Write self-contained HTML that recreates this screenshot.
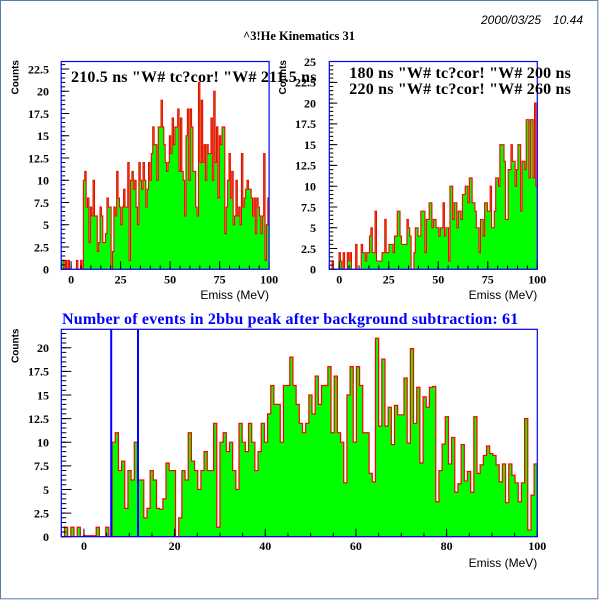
<!DOCTYPE html>
<html><head><meta charset="utf-8"><style>
html,body{margin:0;padding:0;background:#fff;}
svg{display:block;}
.tk{font-family:"Liberation Serif",serif;font-weight:bold;font-size:12px;fill:#000;}
.ax{font-family:"Liberation Sans",sans-serif;font-size:12px;fill:#000;}
.ct{font-family:"Liberation Sans",sans-serif;font-weight:bold;font-size:10px;fill:#000;}
.lb{font-family:"Liberation Serif",serif;font-weight:bold;font-size:16px;letter-spacing:0.2px;fill:#000;}
</style></head><body>
<svg width="600" height="600" viewBox="0 0 600 600" xmlns="http://www.w3.org/2000/svg">
<rect x="0" y="0" width="600" height="600" fill="#fff"/>
<rect x="0.5" y="0.5" width="597.3" height="598.3" fill="none" stroke="#5b7bab" stroke-width="1"/>

<text x="481" y="24" font-family="Liberation Sans, sans-serif" font-style="italic" font-size="12">2000/03/25</text>
<text x="553" y="24" font-family="Liberation Sans, sans-serif" font-style="italic" font-size="12">10.44</text>
<text x="299" y="40" text-anchor="middle" font-family="Liberation Serif, serif" font-weight="bold" font-size="12.5">^3!He Kinematics 31</text>

<defs>
<clipPath id="c1"><rect x="61.2" y="61.5" width="207.9" height="207.8"/></clipPath>
<clipPath id="c2"><rect x="329.3" y="61.5" width="208" height="207.8"/></clipPath>
<clipPath id="c3"><rect x="61.3" y="329.3" width="476" height="207.4"/></clipPath>
</defs>
<g clip-path="url(#c1)">
<g transform="translate(61.2,269.3) scale(1.3867,-8.9)">
<path fill="#00ff00" stroke="#ff0000" stroke-width="1.1" vector-effect="non-scaling-stroke" d="M0 0V1H1V1H2V0H3V1H4V0H5V1H6V0H11V1H12V0H14V1H15V0H16V10H17V11H18V7H19V8H20V3H21V7H22V6H23V10H24V6H26V2H27V3H28V7H29V6H30V3H32V4H33V8H34V7H36V0H37V2H38V7H39V6H40V11H41V8H42V7H43V5H44V7H45V9H46V7H48V12H49V1H50V10H51V11H52V9H53V10H54V7H55V5H56V12H57V10H58V9H59V12H60V10H61V7H62V9H63V12H64V10H65V13H66V16H67V14H69V10H70V16H72V19H73V16H74V14H75V12H76V11H77V12H78V15H79V13H80V17H81V14H82V16H84V18H85V11H86V17H87V11H88V10H89V6H90V15H91V18H92V10H93V18H94V16H95V11H97V7H98V6H99V21H100V12H101V19H102V12H103V14H104V10H105V14H106V13H108V17H109V10H110V20H111V12H112V16H113V8H114V15H115V14H116V16H118V4H119V7H120V10H121V13H122V8H123V11H124V5H125V6H126V10H127V6H128V7H129V5H130V13H131V7H132V8H133V9H134V10H135V9H137V8H138V6H139V8H140V4H141V8H142V7H143V6H144V4H145V6H146V13H147V1H148V5H149V8H150V0Z"/>
</g>
</g>
<g stroke="#000">
<line x1="63.2" y1="269.8" x2="63.2" y2="61.5" stroke-width="4" stroke-dasharray="1 3.45"/>
<line x1="65.2" y1="269.8" x2="65.2" y2="61.5" stroke-width="8" stroke-dasharray="1 21.25"/>
<line x1="60.7" y1="267.3" x2="269.6" y2="267.3" stroke-width="4" stroke-dasharray="1 8.9"/>
<line x1="70.6" y1="265.3" x2="270" y2="265.3" stroke-width="8" stroke-dasharray="1 48.5"/>
</g>
<rect x="61.2" y="61.5" width="207.9" height="207.8" fill="none" stroke="#0000ff" stroke-width="1.2"/>
<g class="tk" text-anchor="end">
<text x="49" y="273.6">0</text>
<text x="49" y="251.35">2.5</text>
<text x="49" y="229.1">5</text>
<text x="49" y="206.85">7.5</text>
<text x="49" y="184.6">10</text>
<text x="49" y="162.35">12.5</text>
<text x="49" y="140.1">15</text>
<text x="49" y="117.85">17.5</text>
<text x="49" y="95.6">20</text>
<text x="49" y="73.35">22.5</text>
</g>
<g class="tk" text-anchor="middle">
<text x="71.1" y="283.5">0</text>
<text x="120.6" y="283.5">25</text>
<text x="170.1" y="283.5">50</text>
<text x="219.6" y="283.5">75</text>
<text x="269.1" y="283.5">100</text>
</g>
<text class="ax" x="269" y="299" text-anchor="end">Emiss (MeV)</text>
<text class="ct" transform="translate(18.5,60) rotate(-90)" text-anchor="end">Counts</text>

<g clip-path="url(#c2)">
<g transform="translate(329.3,269.3) scale(1.3867,-8.31)">
<path fill="#00ff00" stroke="#ff0000" stroke-width="1.1" vector-effect="non-scaling-stroke" d="M0 0V0H2V1H3V0H7V2H8V1H9V0H10V2H11V0H13V2H14V1H15V2H16V0H19V3H20V0H23V3H24V2H26V1H27V2H29V4H30V5H31V2H33V7H34V1H38V2H40V6H41V2H43V3H46V2H47V4H49V7H51V4H52V3H56V6H57V5H58V4H59V0H61V2H62V5H64V4H66V7H69V2H70V6H72V8H74V5H75V6H77V5H79V4H80V5H82V8H83V4H84V5H86V1H87V10H89V6H90V8H92V5H93V7H95V6H96V9H98V10H100V8H101V11H103V8H105V7H106V5H108V2H109V6H111V4H112V8H114V7H116V10H117V5H119V7H120V11H122V10H123V15H126V13H127V6H129V12H131V15H132V13H134V10H135V12H136V15H138V7H139V13H141V12H142V18H144V11H145V18H147V11H148V20H149V10H150V0Z"/>
</g>
</g>
<g stroke="#000">
<line x1="331.3" y1="269.8" x2="331.3" y2="61.5" stroke-width="4" stroke-dasharray="1 3.155"/>
<line x1="333.3" y1="269.8" x2="333.3" y2="61.5" stroke-width="8" stroke-dasharray="1 19.775"/>
<line x1="328.8" y1="267.3" x2="537.8" y2="267.3" stroke-width="4" stroke-dasharray="1 8.905"/>
<line x1="338.7" y1="265.3" x2="538" y2="265.3" stroke-width="8" stroke-dasharray="1 48.525"/>
</g>
<rect x="329.3" y="61.5" width="208" height="207.8" fill="none" stroke="#0000ff" stroke-width="1.2"/>
<g class="tk" text-anchor="end">
<text x="316" y="273.6">0</text>
<text x="316" y="252.8">2.5</text>
<text x="316" y="232.05">5</text>
<text x="316" y="211.3">7.5</text>
<text x="316" y="190.5">10</text>
<text x="316" y="169.7">12.5</text>
<text x="316" y="148.9">15</text>
<text x="316" y="128.2">17.5</text>
<text x="316" y="107.4">20</text>
<text x="316" y="86.6">22.5</text>
<text x="316" y="65.8">25</text>
</g>
<g class="tk" text-anchor="middle">
<text x="339.2" y="283.5">0</text>
<text x="388.7" y="283.5">25</text>
<text x="438.3" y="283.5">50</text>
<text x="487.8" y="283.5">75</text>
<text x="537.3" y="283.5">100</text>
</g>
<text class="ax" x="537.3" y="299" text-anchor="end">Emiss (MeV)</text>
<text class="ct" transform="translate(286,60) rotate(-90)" text-anchor="end">Counts</text>

<text class="lb" x="71" y="82">210.5 ns "W# tc?cor! "W# 211.5 ns</text>
<text class="lb" x="349.3" y="78">180 ns "W# tc?cor! "W# 200 ns</text>
<text class="lb" x="349.3" y="94">220 ns "W# tc?cor! "W# 260 ns</text>

<g clip-path="url(#c3)">
<g transform="translate(61.3,536.7) scale(3.1733,-9.45)">
<path fill="#00ff00" stroke="#ff0000" stroke-width="1.2" vector-effect="non-scaling-stroke" d="M0 0V0H1V1H2V0H3V1H4V0H5V1H6V0H7V0.1H11V1H12V0H14V1H15V0H16V10H17V11H18V7H19V8H20V3H21V7H22V6H23V10H24V6H26V2H27V3H28V7H29V6H30V3H31V2.9H32V4H33V7.8H34V7H36V0H37V2H38V7H39V6H40V11H41V8H42V7H43V5H44V7H45V9H46V7H48V12H49V1H50V10H51V11H52V9H53V10H54V7H55V5H56V12H57V10H58V9H59V12H60V10H61V7H62V9H63V12H64V10H65V13H66V16H67V14H69V10H70V16H72V19H73V16H74V14H75V12H76V11H77V12H78V15H79V13H80V17H81V14H82V16H84V18H85V11H86V17H87V11H88V10H89V5.7H90V15H91V18H92V10H93V18H94V16H95V11H97V6.7H98V5.8H99V21H100V11.7H101V18.8H102V11.7H103V13.7H104V9.75H105V13.9H106V12.9H108V16.8H109V9.9H110V19.9H111V12H112V15.8H113V7.8H114V14.8H115V13.7H116V15.8H117V15.9H118V3.7H119V7H120V9.8H121V12.7H122V7.7H123V10.5H124V4.7H125V5.6H126V9.75H127V5.9H128V6.9H129V4.7H130V12.7H131V6.7H132V7.6H133V8.6H134V9.6H135V8.8H136V8.6H137V7.6H138V5.8H139V7.7H140V3.6H141V7.7H142V6.5H143V5.7H144V3.7H145V5.7H146V12.5H147V0.7H148V4.4H149V7.7H150V0Z"/>
</g>
</g>
<g stroke="#000">
<line x1="63.8" y1="537.2" x2="63.8" y2="329.3" stroke-width="5" stroke-dasharray="1 3.725"/>
<line x1="66.3" y1="537.2" x2="66.3" y2="329.3" stroke-width="10" stroke-dasharray="1 22.625"/>
<line x1="60.8" y1="534.7" x2="537.8" y2="534.7" stroke-width="4" stroke-dasharray="1 21.665"/>
<line x1="83.46" y1="532.7" x2="538" y2="532.7" stroke-width="8" stroke-dasharray="1 89.66"/>
</g>
<rect x="61.3" y="329.3" width="476" height="207.4" fill="none" stroke="#0000ff" stroke-width="1.2"/>
<line x1="111.2" y1="329.3" x2="111.2" y2="536.7" stroke="#0000ff" stroke-width="2"/>
<line x1="138" y1="329.3" x2="138" y2="536.7" stroke="#0000ff" stroke-width="2"/>
<g class="tk" text-anchor="end">
<text x="49" y="541">0</text>
<text x="49" y="517.4">2.5</text>
<text x="49" y="493.75">5</text>
<text x="49" y="470.1">7.5</text>
<text x="49" y="446.5">10</text>
<text x="49" y="422.9">12.5</text>
<text x="49" y="399.25">15</text>
<text x="49" y="375.6">17.5</text>
<text x="49" y="352">20</text>
</g>
<g class="tk" text-anchor="middle">
<text x="84" y="550">0</text>
<text x="174.6" y="550">20</text>
<text x="265.3" y="550">40</text>
<text x="355.9" y="550">60</text>
<text x="446.6" y="550">80</text>
<text x="537.3" y="550">100</text>
</g>
<text class="ax" x="537.3" y="567" text-anchor="end">Emiss (MeV)</text>
<text class="ct" transform="translate(18.5,328.5) rotate(-90)" text-anchor="end">Counts</text>
<text class="lb" x="62" y="324" style="fill:#0000ff">Number of events in 2bbu peak after background subtraction: 61</text>
</svg>
</body></html>
